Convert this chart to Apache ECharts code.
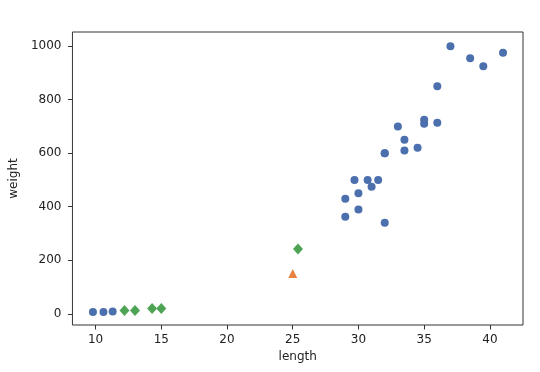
<!DOCTYPE html>
<html><head><meta charset="utf-8">
<script src="https://cdn.jsdelivr.net/npm/echarts@6/dist/echarts.min.js"></script>
<style>html,body{margin:0;padding:0;background:#fff}#c{width:540px;height:372px}</style>
</head><body><div id="c"></div>
<script>
// Training fish (blue circles)
const trainLength = [9.8, 10.6, 11.3, 29.0, 29.0, 29.7, 30.0, 30.0, 30.7, 31.0, 31.5, 32.0, 32.0, 32.0, 33.0, 33.5, 33.5, 34.5, 35.0, 35.0, 36.0, 36.0, 37.0, 38.5, 39.5, 41.0];
const trainWeight = [6.7, 7.0, 8.7, 363, 430, 500, 390, 450, 500, 475, 500, 340, 600, 600, 700, 610, 650, 620, 710, 725, 714, 850, 1000, 955, 925, 975];
// New sample (orange triangle)
const newLength = [25];
const newWeight = [150];
// Nearest neighbours (green diamonds)
const nbLength = [25.4, 12.2, 13.0, 14.3, 15.0];
const nbWeight = [242, 12.2, 12.2, 19.7, 19.9];
const xTicks = [10, 15, 20, 25, 30, 35, 40];
const yTicks = [0, 200, 400, 600, 800, 1000];

const zip = (a, b) => a.map((v, i) => [v, b[i]]);
const font = 'DejaVu Sans';
const chart = echarts.init(document.getElementById('c'));
chart.setOption({
  animation: false,
  grid: {left: 70, right: 17, top: 32, bottom: 47, show: true, borderColor: '#333', borderWidth: 1, backgroundColor: '#fff'},
  xAxis: {
    type: 'value', min: 8.24, max: 42.52,
    name: 'length', nameLocation: 'middle', nameGap: 26,
    nameTextStyle: {fontFamily: font, fontSize: 12, color: '#222'},
    axisLine: {show: false, onZero: false},
    axisTick: {show: true, length: 4.5, customValues: xTicks, lineStyle: {color: '#333'}},
    axisLabel: {customValues: xTicks, fontFamily: font, fontSize: 12, color: '#222', margin: 9},
    splitLine: {show: false}
  },
  yAxis: {
    type: 'value', min: -42, max: 1053,
    name: 'weight', nameLocation: 'middle', nameGap: 49,
    nameTextStyle: {fontFamily: font, fontSize: 12, color: '#222'},
    axisLine: {show: false, onZero: false},
    axisTick: {show: true, length: 4.5, customValues: yTicks, lineStyle: {color: '#333'}},
    axisLabel: {customValues: yTicks, formatter: v => String(v), fontFamily: font, fontSize: 12, color: '#222', margin: 11},
    splitLine: {show: false}
  },
  series: [
    {type: 'scatter', data: zip(trainLength, trainWeight), symbol: 'circle', symbolSize: 8,
     itemStyle: {color: '#4c6fae', opacity: 1}},
    {type: 'scatter', data: zip(newLength, newWeight), symbol: 'triangle', symbolSize: 9,
     itemStyle: {color: '#e7833f', opacity: 1}},
    {type: 'scatter', data: zip(nbLength, nbWeight), symbol: 'diamond', symbolSize: [10, 11],
     itemStyle: {color: '#4fa354', opacity: 1}}
  ]
});
</script></body></html>
